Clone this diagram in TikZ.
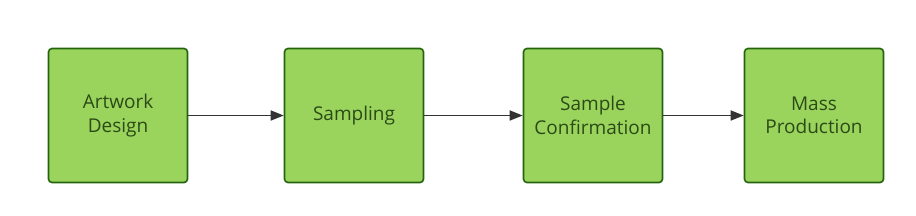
\documentclass[tikz,border=0pt]{standalone}
\usepackage{fontspec}
\setmainfont{Open Sans}
\usetikzlibrary{arrows.meta}
\definecolor{boxfill}{HTML}{9AD45C}
\definecolor{boxline}{HTML}{23650F}
\definecolor{boxtext}{HTML}{2B4A17}
\definecolor{arrowcol}{HTML}{333333}
\begin{document}
\begin{tikzpicture}[
    x=1pt,y=-1pt,
    font=\fontsize{19}{23.5}\selectfont,
    step box/.style={rectangle,rounded corners=3.5pt,draw=boxline,line width=1.6pt,fill=boxfill,
        minimum width=139pt,minimum height=134pt,text=boxtext,align=center,inner sep=0pt},
    arr/.style={draw=arrowcol,line width=1.6pt,-{Triangle[length=13pt,width=10pt]}}
]
    \useasboundingbox (0,0) rectangle (916,215);
    \node[step box] (artwork) at (118,115.5) {Artwork\\Design};
    \node[step box] (sampling) at (354,115.5) {Sampling};
    \node[step box] (confirm) at (593,115.5) {Sample\\Confirmation};
    \node[step box] (mass) at (814,115.5) {Mass\\Production};
    \draw[arr] (artwork) -- (sampling);
    \draw[arr] (sampling) -- (confirm);
    \draw[arr] (confirm) -- (mass);
\end{tikzpicture}
\end{document}
